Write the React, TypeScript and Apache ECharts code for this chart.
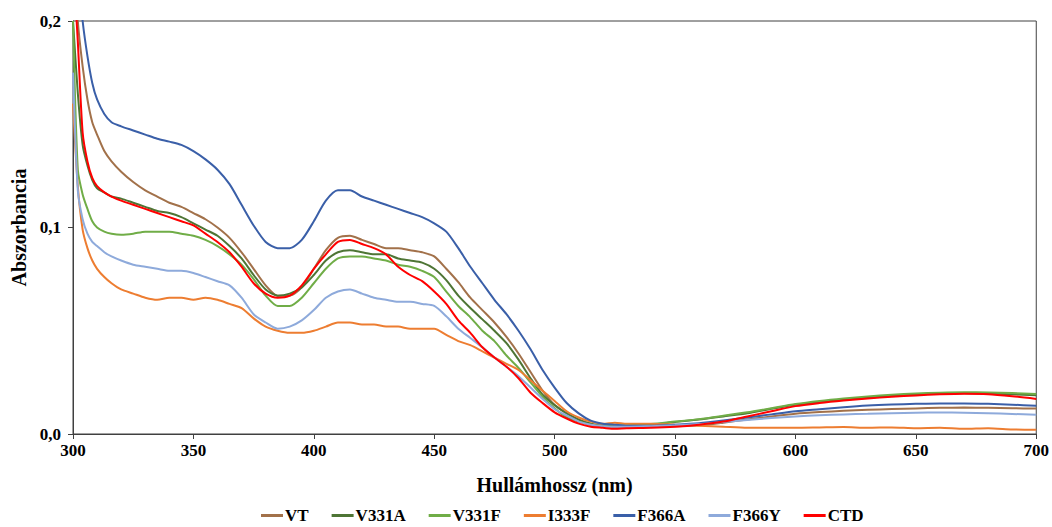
import React, { useEffect, useRef } from "react";
import * as echarts from "echarts";

const wavelengths = [300, 302, 304, 306, 308, 310, 313, 316, 320, 325, 330, 335, 340, 345, 350, 355, 360, 365, 370, 375, 380, 385, 390, 395, 400, 405, 410, 415, 420, 425, 430, 435, 440, 445, 450, 455, 460, 465, 470, 475, 480, 485, 490, 495, 500, 505, 510, 515, 520, 525, 530, 540, 550, 560, 570, 580, 590, 600, 610, 620, 630, 640, 650, 660, 670, 680, 690, 700];

const VT = [0.24, 0.2, 0.178, 0.162, 0.151, 0.145, 0.137, 0.132, 0.127, 0.122, 0.118, 0.115, 0.112, 0.11, 0.107, 0.104, 0.1, 0.095, 0.088, 0.08, 0.072, 0.067, 0.067, 0.071, 0.08, 0.089, 0.095, 0.096, 0.094, 0.092, 0.09, 0.09, 0.089, 0.088, 0.086, 0.08, 0.0735, 0.066, 0.06, 0.054, 0.047, 0.039, 0.03, 0.021, 0.014, 0.01, 0.007, 0.005, 0.004, 0.0035, 0.0035, 0.0035, 0.0037, 0.0042, 0.0055, 0.007, 0.0085, 0.0098, 0.0106, 0.0112, 0.0117, 0.0121, 0.0124, 0.0127, 0.0128, 0.0127, 0.0125, 0.0123];

const V331A = [0.2, 0.165, 0.14, 0.13, 0.123, 0.119, 0.117, 0.115, 0.114, 0.112, 0.11, 0.108, 0.107, 0.105, 0.102, 0.099, 0.096, 0.091, 0.085, 0.077, 0.07, 0.067, 0.068, 0.071, 0.077, 0.084, 0.088, 0.089, 0.088, 0.087, 0.087, 0.085, 0.084, 0.083, 0.08, 0.0745, 0.067, 0.061, 0.0555, 0.05, 0.044, 0.036, 0.027, 0.019, 0.014, 0.01, 0.007, 0.005, 0.004, 0.004, 0.004, 0.0045, 0.0058, 0.007, 0.0085, 0.01, 0.0122, 0.0142, 0.0155, 0.0166, 0.0176, 0.0185, 0.0192, 0.0196, 0.0197, 0.0196, 0.0192, 0.0188];

const V331F = [0.2, 0.128, 0.116, 0.109, 0.103, 0.1, 0.098, 0.097, 0.0965, 0.097, 0.098, 0.098, 0.098, 0.097, 0.096, 0.094, 0.091, 0.087, 0.082, 0.075, 0.067, 0.062, 0.062, 0.066, 0.073, 0.08, 0.085, 0.086, 0.086, 0.085, 0.084, 0.082, 0.081, 0.079, 0.076, 0.069, 0.062, 0.0565, 0.05, 0.045, 0.038, 0.032, 0.025, 0.018, 0.0125, 0.008, 0.006, 0.0045, 0.004, 0.004, 0.0042, 0.0048, 0.006, 0.0072, 0.0088, 0.0105, 0.0125, 0.0145, 0.016, 0.0172, 0.0182, 0.019, 0.0196, 0.02, 0.0202, 0.0201, 0.0198, 0.0194];

const I333F = [0.16, 0.12, 0.099, 0.09, 0.084, 0.08, 0.076, 0.073, 0.07, 0.068, 0.066, 0.065, 0.066, 0.066, 0.065, 0.066, 0.065, 0.063, 0.061, 0.056, 0.052, 0.05, 0.049, 0.049, 0.05, 0.052, 0.054, 0.054, 0.053, 0.053, 0.052, 0.052, 0.051, 0.051, 0.051, 0.048, 0.045, 0.043, 0.04, 0.037, 0.034, 0.031, 0.026, 0.021, 0.016, 0.011, 0.008, 0.006, 0.005, 0.0055, 0.005, 0.005, 0.0045, 0.004, 0.0035, 0.003, 0.003, 0.003, 0.0032, 0.0034, 0.003, 0.0032, 0.0028, 0.003, 0.0025, 0.0028, 0.0022, 0.002];

const F366A = [0.26, 0.225, 0.2, 0.183, 0.17, 0.162, 0.155, 0.151, 0.149, 0.147, 0.145, 0.143, 0.1416, 0.14, 0.137, 0.133, 0.128, 0.121, 0.111, 0.101, 0.093, 0.09, 0.09, 0.094, 0.103, 0.113, 0.118, 0.118, 0.115, 0.113, 0.111, 0.109, 0.107, 0.105, 0.102, 0.098, 0.09, 0.081, 0.073, 0.065, 0.058, 0.05, 0.041, 0.031, 0.0225, 0.015, 0.01, 0.0065, 0.005, 0.0045, 0.004, 0.004, 0.0045, 0.0052, 0.0065, 0.008, 0.0095, 0.011, 0.012, 0.013, 0.0138, 0.0143, 0.0146, 0.0148, 0.0148, 0.0146, 0.0142, 0.0137];

const F366Y = [0.175, 0.118, 0.104, 0.097, 0.093, 0.091, 0.088, 0.086, 0.084, 0.082, 0.081, 0.08, 0.079, 0.079, 0.078, 0.076, 0.074, 0.072, 0.066, 0.058, 0.054, 0.051, 0.052, 0.055, 0.06, 0.066, 0.069, 0.07, 0.068, 0.066, 0.065, 0.064, 0.064, 0.063, 0.062, 0.057, 0.051, 0.0465, 0.042, 0.037, 0.0326, 0.028, 0.0225, 0.017, 0.012, 0.009, 0.006, 0.0045, 0.0038, 0.0035, 0.0035, 0.0038, 0.0042, 0.0048, 0.0058, 0.0068, 0.0077, 0.0085, 0.0091, 0.0095, 0.0098, 0.0101, 0.0103, 0.0104, 0.0103, 0.0101, 0.0097, 0.0093];

const CTD = [0.23, 0.19, 0.146, 0.132, 0.124, 0.12, 0.117, 0.115, 0.113, 0.111, 0.109, 0.107, 0.105, 0.103, 0.101, 0.097, 0.093, 0.088, 0.081, 0.073, 0.068, 0.066, 0.067, 0.072, 0.08, 0.087, 0.093, 0.094, 0.092, 0.09, 0.087, 0.081, 0.077, 0.074, 0.069, 0.063, 0.055, 0.049, 0.042, 0.037, 0.0326, 0.027, 0.02, 0.015, 0.0105, 0.0075, 0.005, 0.0035, 0.003, 0.0025, 0.0028, 0.003, 0.0035, 0.0045, 0.006, 0.0085, 0.011, 0.0135, 0.015, 0.0162, 0.0172, 0.018, 0.0187, 0.0192, 0.0195, 0.0193, 0.0183, 0.017];

const seriesNames = ["VT", "V331A", "V331F", "I333F", "F366A", "F366Y", "CTD"];
const seriesValues = [VT, V331A, V331F, I333F, F366A, F366Y, CTD];
const seriesColors = ["#A2714A", "#4E7535", "#70AD47", "#ED7D31", "#3A5FA8", "#8EAADB", "#FF0000"];

const FONT = "'Liberation Serif', 'Times New Roman', serif";

export default function App() {
  const ref = useRef<HTMLDivElement>(null);
  useEffect(() => {
    if (!ref.current) return;
    const chart = echarts.init(ref.current, undefined, { renderer: "svg" });
    const axisColor = "#404040";
    chart.setOption({
      animation: false,
      backgroundColor: "#ffffff",
      grid: {
        left: 73,
        right: 15,
        top: 21,
        bottom: 93,
        show: true,
        borderColor: axisColor,
        borderWidth: 1,
      },
      legend: {
        bottom: -2,
        left: 256,
        icon: "rect",
        itemWidth: 22,
        itemHeight: 3,
        itemGap: 23,
        textStyle: { fontFamily: FONT, fontWeight: "bold", fontSize: 17, color: "#000", padding: [0, 0, 0, -3] },
        data: seriesNames,
      },
      xAxis: {
        type: "value",
        min: 300,
        max: 700,
        interval: 50,
        name: "Hullámhossz (nm)",
        nameLocation: "middle",
        nameGap: 41,
        nameTextStyle: { fontFamily: FONT, fontWeight: "bold", fontSize: 20, color: "#000" },
        axisLine: { show: true, lineStyle: { color: axisColor, width: 1 } },
        axisTick: { show: true, length: 5, lineStyle: { color: axisColor } },
        axisLabel: { fontFamily: FONT, fontWeight: "bold", fontSize: 17, color: "#000", margin: 8 },
        splitLine: { show: false },
      },
      yAxis: {
        type: "value",
        min: 0,
        max: 0.2,
        interval: 0.1,
        name: "Abszorbancia",
        nameLocation: "middle",
        nameGap: 41,
        nameTextStyle: { fontFamily: FONT, fontWeight: "bold", fontSize: 20, color: "#000" },
        axisLine: { show: true, lineStyle: { color: axisColor, width: 1 } },
        axisTick: { show: true, length: 5, lineStyle: { color: axisColor } },
        axisLabel: {
          fontFamily: FONT,
          fontWeight: "bold",
          fontSize: 17,
          color: "#000",
          margin: 12,
          formatter: (v: number) => v.toFixed(1).replace(".", ","),
        },
        splitLine: { show: false },
      },
      series: seriesNames.map((name, k) => ({
        name,
        type: "line",
        symbol: "none",
        smooth: 0.25,
        clip: true,
        color: seriesColors[k],
        lineStyle: { width: 2, color: seriesColors[k] },
        data: wavelengths.map((w, i) => [w, seriesValues[k][i]]),
      })),
    });
    return () => chart.dispose();
  }, []);
  return (
    <div
      ref={ref}
      style={{ position: "fixed", left: 0, top: 0, width: 1052, height: 527, background: "#fff" }}
    />
  );
}
